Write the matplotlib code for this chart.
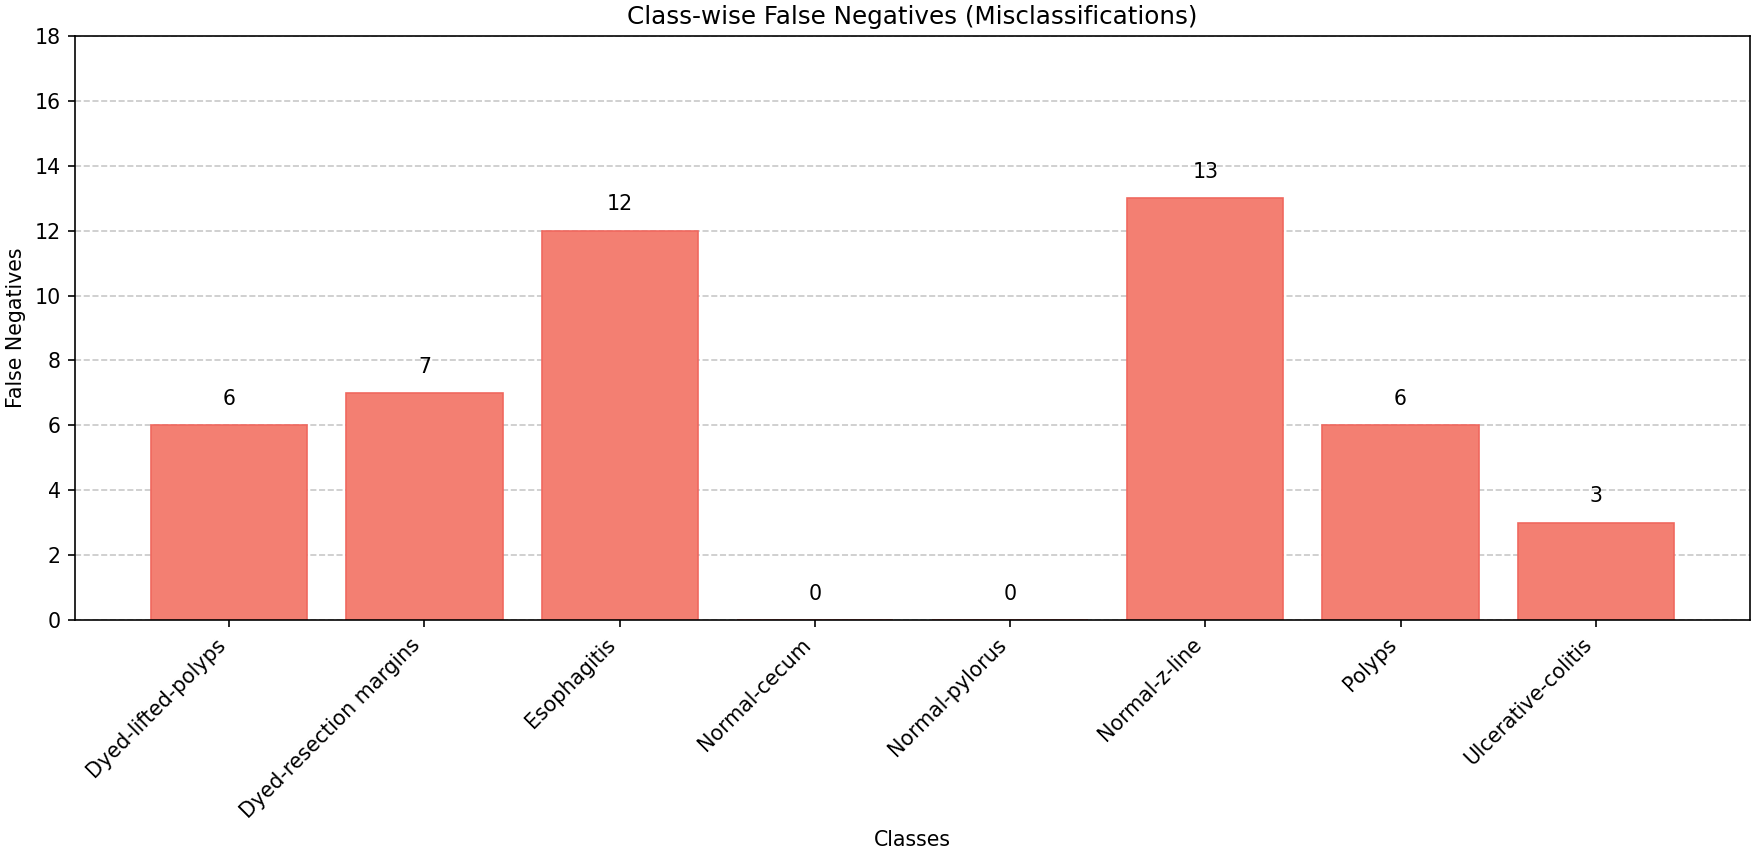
import matplotlib
matplotlib.use("Agg")
import matplotlib.pyplot as plt

classes = ["Dyed-lifted-polyps", "Dyed-resection margins", "Esophagitis", "Normal-cecum",
           "Normal-pylorus", "Normal-z-line", "Polyps", "Ulcerative-colitis"]
false_negatives = [6, 7, 12, 0, 0, 13, 6, 3]

fig = plt.figure(figsize=(1755/148, 851/148), dpi=148)
ax = fig.add_axes([75/1755, 1-620/851, 1675/1755, 584/851])

bars = ax.bar(classes, false_negatives, color="#F37F72", edgecolor="#F0675E", linewidth=0.8)
for b, v in zip(bars, false_negatives):
    ax.text(b.get_x() + b.get_width()/2, v + 0.5, str(v), ha="center", va="bottom", fontsize=10)

ax.set_ylim(0, 18)
ax.set_title("Class-wise False Negatives (Misclassifications)", fontsize=12)
ax.set_xlabel("Classes")
ax.set_ylabel("False Negatives")
ax.grid(axis="y", linestyle="--", alpha=0.7)
ax.set_axisbelow(True)
plt.setp(ax.get_xticklabels(), rotation=45, ha="right")

fig.savefig("out.png", dpi=148)
